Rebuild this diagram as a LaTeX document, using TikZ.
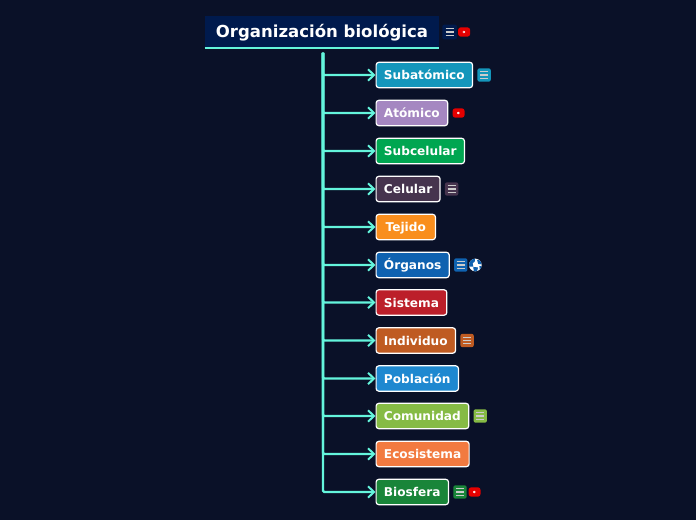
\documentclass[tikz,border=0pt]{standalone}
\usepackage{fontspec}
\setmainfont{DejaVu Sans}
\usetikzlibrary{arrows.meta,calc,positioning}
\definecolor{fondo}{HTML}{0A1128}
\definecolor{turquesa}{HTML}{64F5DC}
\definecolor{azulnoche}{HTML}{001A4D}
\definecolor{subatomico}{HTML}{1496BB}
\definecolor{atomico}{HTML}{A587C1}
\definecolor{subcelular}{HTML}{00A651}
\definecolor{celular}{HTML}{46344E}
\definecolor{tejido}{HTML}{F98E1D}
\definecolor{organos}{HTML}{0F62B0}
\definecolor{sistema}{HTML}{BC1F2A}
\definecolor{individuo}{HTML}{BF5B22}
\definecolor{poblacion}{HTML}{1E88D0}
\definecolor{comunidad}{HTML}{86BB45}
\definecolor{ecosistema}{HTML}{F27A40}
\definecolor{biosfera}{HTML}{198539}
\tikzset{
  titulo/.style={
    fill=azulnoche,
    text=white,
    text height=9pt,
    text depth=0pt,
    minimum width=175.5pt,
    minimum height=24pt,
    inner sep=0pt,
    font=\fontsize{12.4}{15}\selectfont\bfseries
  },
  nivel/.style={
    rounded corners=2pt,
    draw=white,
    line width=.9pt,
    text=white,
    anchor=west,
    text height=7.4pt,
    text depth=.4pt,
    minimum height=19pt,
    inner xsep=5.9pt,
    inner ysep=0pt,
    font=\fontsize{9.1}{11}\selectfont\bfseries
  },
  rama/.style={
    -{Straight Barb[length=4.5pt,width=8.5pt,line width=1.5pt]},
    line width=1.7pt,
    rounded corners=1pt,
    turquesa
  },
  nota/.style={
    rounded corners=1.5pt,
    minimum size=10pt,
    inner sep=0pt,
    anchor=west,
    path picture={
      \foreach \dy in {-2.3pt,0pt,2.3pt}
        \draw[white!80!black,line width=.8pt] ($(path picture bounding box.center)+(-3pt,\dy)$) -- ++(6pt,0);
    }
  },
  video/.style={
    rounded corners=2pt,
    fill=red!90!black,
    minimum width=9pt,
    minimum height=7pt,
    inner sep=0pt,
    anchor=west,
    path picture={
      \fill[white] ($(path picture bounding box.center)+(-1pt,1.3pt)$) -- ++(2.4pt,-1.3pt) -- ++(-2.4pt,-1.3pt) -- cycle;
    }
  },
  mundo/.style={
    circle,
    fill=white,
    minimum size=9.5pt,
    inner sep=0pt,
    anchor=west,
    path picture={
      \fill[organos] ($(path picture bounding box.center)+(-5pt,5pt)$) -- ++(4.8pt,0) -- ++(-.3pt,-2.6pt) -- ++(-1.5pt,-1pt) -- ++(.5pt,-2.6pt) -- ++(-3.5pt,0) -- cycle;
      \fill[organos] ($(path picture bounding box.center)+(1.2pt,4pt)$) -- ++(3.5pt,-1pt) -- ++(.5pt,-2.6pt) -- ++(-3pt,.4pt) -- cycle;
      \fill[organos] ($(path picture bounding box.center)+(-1.5pt,-1.5pt)$) -- ++(3.5pt,-.3pt) -- ++(-.8pt,-3.5pt) -- ++(-2.4pt,.3pt) -- cycle;
      \fill[organos] ($(path picture bounding box.center)+(3pt,-.8pt)$) -- ++(2pt,0) -- ++(0,-3.4pt) -- ++(-1.5pt,0) -- cycle;
    }
  }
}
\begin{document}
\begin{tikzpicture}[x=.75pt,y=-.75pt]
\useasboundingbox[fill=fondo] (0,0) rectangle (696,520);
\node[titulo] (org) at (322,32) {Organización biológica};
\draw[turquesa,line width=1.5pt] (org.south west) -- (org.south east);
\coordinate (tronco) at ($(org.south)+(1,4.5)$);
\node[nota,fill=azulnoche,minimum size=11pt] (orgnota) at (442,32) {};
\node[video,right=.5pt of orgnota] (orgvideo) {};

\node[nivel,fill=subatomico] (a) at (375.5,75) {Subatómico};
\node[nivel,fill=atomico] (b) at (375.5,113) {Atómico};
\node[nivel,fill=subcelular] (c) at (375.5,151) {Subcelular};
\node[nivel,fill=celular] (d) at (375.5,189) {Celular};
\node[nivel,fill=tejido,minimum width=44.5pt] (e) at (375.5,227) {Tejido};
\node[nivel,fill=organos] (f) at (375.5,265) {Órganos};
\node[nivel,fill=sistema] (g) at (375.5,302.5) {Sistema};
\node[nivel,fill=individuo] (h) at (375.5,340.5) {Individuo};
\node[nivel,fill=poblacion] (i) at (375.5,378.5) {Población};
\node[nivel,fill=comunidad] (j) at (375.5,416) {Comunidad};
\node[nivel,fill=ecosistema] (k) at (375.5,454) {Ecosistema};
\node[nivel,fill=biosfera] (l) at (375.5,492) {Biosfera};

\foreach \n in {a,...,l}
  \draw[rama] (tronco) |- (\n);

\node[nota,fill=subatomico,right=3pt of a] (anota) {};
\node[video,right=3pt of b] (bvideo) {};
\node[nota,fill=celular,right=3pt of d] (dnota) {};
\node[nota,fill=organos,right=3pt of f] (fnota) {};
\node[mundo,right=.8pt of fnota] (fmundo) {};
\node[nota,fill=individuo,right=3pt of h] (hnota) {};
\node[nota,fill=comunidad,right=3pt of j] (jnota) {};
\node[nota,fill=biosfera,right=3pt of l] (lnota) {};
\node[video,right=1pt of lnota] (lvideo) {};
\end{tikzpicture}
\end{document}
